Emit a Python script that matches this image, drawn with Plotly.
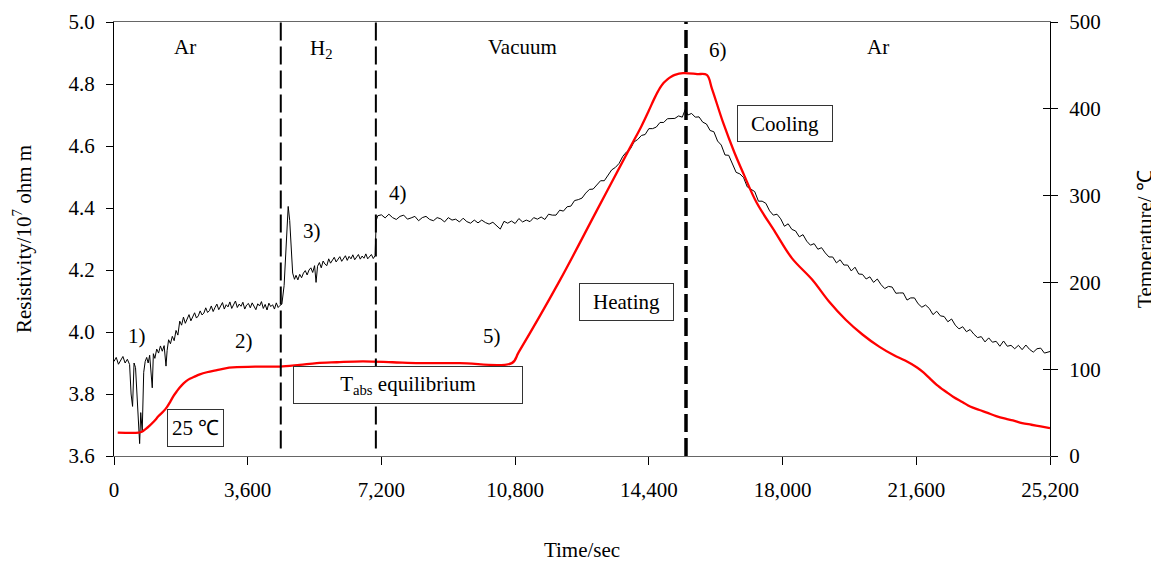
import plotly.graph_objects as go

# ---------------- data ----------------
# Resistivity (10^-7 ohm m) vs time (s)
ar_start_time = [0, 60, 120, 180, 240, 300, 360, 420, 460, 500, 540, 580, 620, 660, 690, 720, 760, 800, 840, 880,
                 920, 960, 1000, 1030, 1060, 1100, 1150, 1200, 1250, 1300, 1350, 1400, 1430, 1470, 1520, 1570,
                 1620, 1670, 1720]
ar_start_res = [3.905, 3.918, 3.896, 3.91, 3.921, 3.90, 3.912, 3.895, 3.80, 3.76, 3.90, 3.885, 3.78, 3.70, 3.64,
                3.74, 3.68, 3.87, 3.905, 3.918, 3.90, 3.925, 3.86, 3.82, 3.93, 3.915, 3.945, 3.932, 3.955, 3.938,
                3.956, 3.89, 3.94, 3.975, 3.962, 3.986, 3.972, 4.005, 3.99]

ar_plateau_time = list(range(1770, 4471, 50))
ar_plateau_res = [4.035, 4.022, 4.048, 4.028, 4.041, 4.056, 4.036, 4.049, 4.062, 4.045,
                  4.052, 4.068, 4.055, 4.061, 4.078, 4.063, 4.069, 4.084, 4.066, 4.079,
                  4.090, 4.072, 4.083, 4.095, 4.074, 4.088, 4.081, 4.097, 4.076, 4.086,
                  4.100, 4.079, 4.090, 4.083, 4.096, 4.074, 4.087, 4.092, 4.078, 4.094,
                  4.080, 4.072, 4.091, 4.084, 4.098, 4.076, 4.089, 4.071, 4.093, 4.082,
                  4.088, 4.074, 4.094, 4.079, 4.086]

h2_time = [4520, 4580, 4640, 4690, 4730, 4770, 4810, 4860, 4900, 4950, 5000, 5050, 5100, 5150, 5200, 5250, 5300,
           5350, 5400, 5440, 5480, 5530, 5580, 5630, 5680, 5730, 5780, 5830, 5880, 5930, 5980, 6030, 6080, 6130,
           6180, 6230, 6280, 6330, 6380, 6430, 6480, 6530, 6580, 6630, 6680, 6730, 6780, 6830, 6880, 6930, 6980,
           7030, 7060, 7100]
h2_res = [4.09, 4.15, 4.32, 4.405, 4.36, 4.26, 4.19, 4.17, 4.183, 4.168, 4.186, 4.175, 4.19, 4.198, 4.184, 4.20,
          4.207, 4.192, 4.214, 4.16, 4.212, 4.224, 4.207, 4.229, 4.219, 4.214, 4.236, 4.222, 4.23, 4.241, 4.226,
          4.235, 4.243, 4.228, 4.238, 4.246, 4.231, 4.244, 4.236, 4.249, 4.233, 4.241, 4.25, 4.235, 4.245, 4.238,
          4.252, 4.236, 4.244, 4.25, 4.237, 4.246, 4.36, 4.375]

vacuum_time = list(range(7200, 12101, 100))
vacuum_res = [4.378, 4.368, 4.380, 4.369, 4.363, 4.373, 4.377, 4.364, 4.368, 4.373,
              4.359, 4.369, 4.373, 4.363, 4.359, 4.369, 4.365, 4.355, 4.369, 4.361,
              4.364, 4.355, 4.367, 4.356, 4.351, 4.361, 4.352, 4.361, 4.353, 4.348,
              4.354, 4.344, 4.332, 4.357, 4.351, 4.358, 4.350, 4.366, 4.355, 4.361,
              4.356, 4.369, 4.364, 4.371, 4.363, 4.380, 4.377, 4.377, 4.393, 4.390]

heating_time = list(range(12200, 15301, 100)) + [15380, 15450]
heating_res = [4.404, 4.406, 4.424, 4.427, 4.432, 4.448, 4.460, 4.461, 4.475, 4.488,
               4.488, 4.505, 4.523, 4.531, 4.544, 4.567, 4.581, 4.590, 4.613, 4.621,
               4.634, 4.637, 4.656, 4.656, 4.661, 4.676, 4.676, 4.688, 4.688, 4.689,
               4.697, 4.693, 4.718, 4.700]

cooling_time = list(range(15550, 25051, 100)) + [25200]
cooling_res = [4.705, 4.693, 4.694, 4.677, 4.671, 4.650, 4.646, 4.616, 4.603, 4.571,
               4.570, 4.540, 4.515, 4.510, 4.498, 4.468, 4.461, 4.453, 4.422, 4.422,
               4.415, 4.391, 4.377, 4.380, 4.365, 4.341, 4.349, 4.331, 4.326, 4.307,
               4.314, 4.293, 4.280, 4.285, 4.267, 4.272, 4.255, 4.242, 4.242, 4.223,
               4.233, 4.216, 4.216, 4.197, 4.209, 4.187, 4.186, 4.171, 4.178, 4.160,
               4.171, 4.153, 4.140, 4.147, 4.145, 4.125, 4.126, 4.126, 4.103, 4.110,
               4.110, 4.091, 4.080, 4.087, 4.076, 4.056, 4.067, 4.052, 4.050, 4.033,
               4.042, 4.022, 4.010, 4.017, 4.001, 4.008, 3.993, 3.982, 3.985, 3.968,
               3.981, 3.967, 3.970, 3.954, 3.971, 3.954, 3.957, 3.946, 3.957, 3.943,
               3.958, 3.944, 3.935, 3.946, 3.948, 3.932, 3.937]

# Temperature (deg C) vs time (s)
temp_time = [100, 665, 750, 850, 960, 1080, 1200, 1320, 1420, 1520, 1600, 1700, 1770, 1880, 2000, 2150, 2310,
             2500, 2770, 3000, 3200, 3800, 4460, 5000, 5460, 6000, 6700, 7500, 8230, 9310, 10710, 10900, 12000,
             13000, 13890, 14200, 14400, 14550, 14700, 14800, 14900, 15000, 15100, 15320, 15700, 15960, 16100,
             16400, 16700, 16950, 17300, 17800, 18250, 18800, 19250, 19700, 20150, 20600, 21000, 21300, 21620,
             21800, 21950, 22150, 22400, 22600, 22850, 23050, 23300, 23500, 23750, 24000, 24200, 24450, 24700,
             24950, 25200]
temp_value = [27, 27, 28, 31, 35, 40, 46, 51, 56, 63, 69, 75, 79, 84, 88, 91, 94, 96.5, 99, 101, 102, 103, 103,
              105, 107, 108, 109, 108, 107, 107, 107, 120, 202, 283, 355, 380, 398, 412, 424, 430, 434, 437, 439,
              441, 440, 439, 423, 384, 350, 325, 292, 258, 228, 203, 178, 157, 140, 126, 116, 110, 102, 96, 90, 82,
              74, 68, 62, 57, 53, 50, 46, 43, 41, 38, 36, 34, 32]

phase_bounds = [4490, 7050, 15400]
x_ticks = [0, 3600, 7200, 10800, 14400, 18000, 21600, 25200]

# labels: (text, x, y)
phase_labels = [("Ar", 1904, 4.918), ("H<sub>2</sub>", 5594, 4.912), ("Vacuum", 11010, 4.918),
                ("6)", 16260, 4.909), ("Ar", 20570, 4.918)]
step_labels = [("1)", 630, 3.986), ("2)", 3490, 3.97), ("3)", 5330, 4.327), ("4)", 7640, 4.45), ("5)", 10180, 3.986)]
box_labels = [("25 \u2103", 2190, 3.689, 57, 38), ("T<sub>abs</sub> equilibrium", 7910, 3.828, 230, 38),
              ("Heating", 13800, 4.096, 95, 38), ("Cooling", 18060, 4.672, 96, 37)]

FONT = "Liberation Serif, Times New Roman, serif"
FS = 21

res_time = ar_start_time + ar_plateau_time + h2_time + vacuum_time + heating_time + cooling_time
res_value = ar_start_res + ar_plateau_res + h2_res + vacuum_res + heating_res + cooling_res

fig = go.Figure()
fig.add_trace(go.Scatter(x=res_time, y=res_value, mode="lines", line=dict(color="black", width=1),
                         yaxis="y", showlegend=False))
fig.add_trace(go.Scatter(x=temp_time, y=temp_value, mode="lines", line=dict(color="#ff0000", width=2.3),
                         line_shape="spline", yaxis="y2", showlegend=False))
# helper trace so the inner tick axis (crossing ticks on right axis) is drawn
fig.add_trace(go.Scatter(x=[None], y=[None], mode="lines", yaxis="y3", showlegend=False, hoverinfo="skip"))

for i, xb in enumerate(phase_bounds):
    fig.add_shape(type="line", xref="x", yref="paper", x0=xb, x1=xb, y0=0.017 if i < 2 else 0.0, y1=1,
                  line=dict(color="black", width=2 if i < 2 else 3.5, dash="18px,6px"))

for t, x, y in phase_labels + step_labels:
    fig.add_annotation(text=t, x=x, y=y, xref="x", yref="y", showarrow=False,
                       xanchor="center", yanchor="middle", font=dict(family=FONT, size=FS, color="black"))
for t, x, y, w, h in box_labels:
    fig.add_annotation(text=t, x=x, y=y, xref="x", yref="y", showarrow=False,
                       xanchor="center", yanchor="middle", width=w - 2, height=h - 2, borderpad=0,
                       bordercolor="#333333", borderwidth=1, bgcolor="white", align="center", valign="middle",
                       font=dict(family=FONT, size=FS, color="black"))

axis_font = dict(family=FONT, size=FS, color="black")
# the page adds an 8px body margin, so the figure is sized/offset to compensate
fig.update_layout(
    width=1151, height=557,
    margin=dict(l=106, r=109, t=14, b=109, autoexpand=False),
    paper_bgcolor="white", plot_bgcolor="white",
    font=axis_font,
    xaxis=dict(range=[0, 25200], tickvals=x_ticks, tickformat=",d", ticks="outside", ticklen=8,
               tickcolor="black", showline=True, linecolor="#666666", linewidth=1, mirror=True,
               showgrid=False, zeroline=False, tickfont=axis_font, ticklabelstandoff=7, automargin=False,
               title=dict(text="Time/sec", font=axis_font, standoff=41)),
    yaxis=dict(range=[3.6, 5.0], dtick=0.2, tickformat=".1f", ticks="outside", ticklen=7, tickcolor="black",
               showline=True, linecolor="black", linewidth=1, showgrid=False, zeroline=False, tickfont=axis_font,
               ticklabelstandoff=7, automargin=False,
               title=dict(text="Resistivity/10<sup>7</sup> ohm m", font=axis_font, standoff=31)),
    yaxis2=dict(range=[0, 500], dtick=100, overlaying="y", side="right", anchor="x", ticks="outside",
                ticklen=7, tickcolor="black", showline=True, linecolor="black", linewidth=1, showgrid=False,
                zeroline=False, tickfont=axis_font, ticklabelstandoff=7, automargin=False,
                title=dict(text="Temperature/ \u2103", font=axis_font, standoff=37)),
    yaxis3=dict(range=[0, 500], dtick=100, overlaying="y", side="right", anchor="x", ticks="inside",
                ticklen=7, tickcolor="black", showticklabels=False, showline=False, showgrid=False,
                zeroline=False, automargin=False),
)

fig.write_html("out.html")
